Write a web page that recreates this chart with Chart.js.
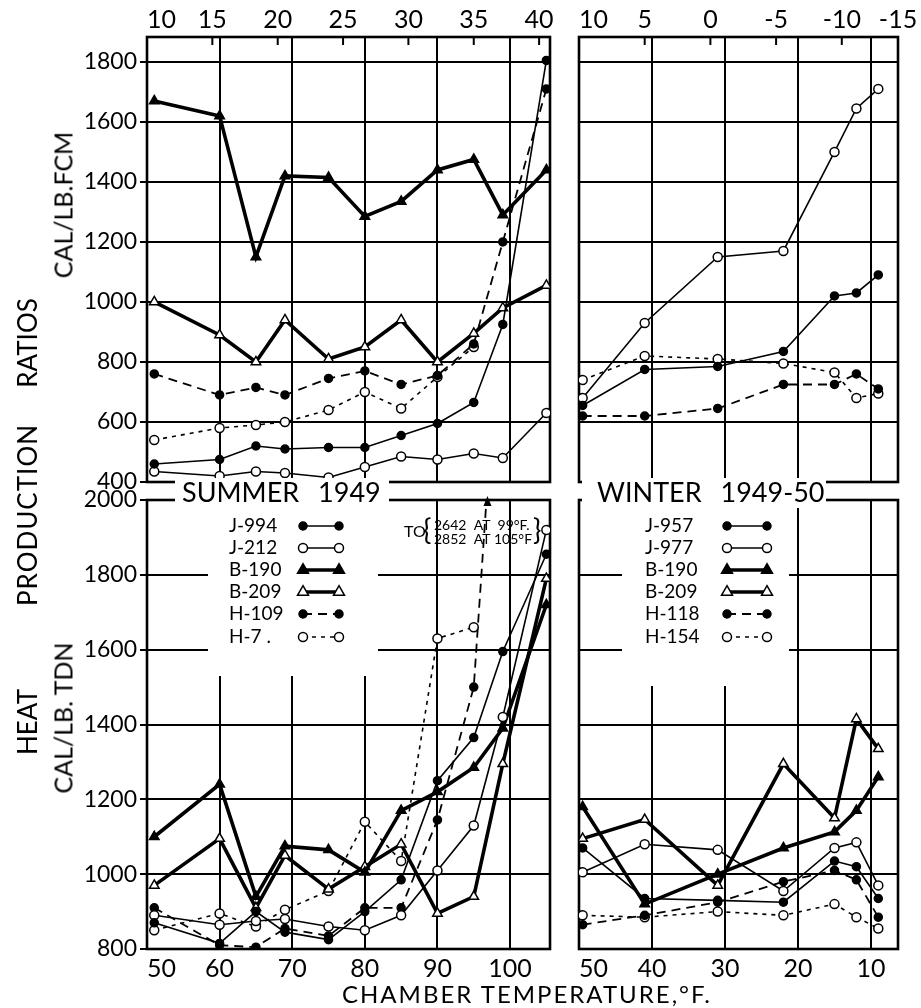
<!DOCTYPE html>
<html>
<head>
<meta charset="utf-8">
<title>Heat production ratios</title>
<script src="https://cdn.jsdelivr.net/npm/chart.js@4.4.1/dist/chart.umd.min.js"></script>
<style>
  body { margin: 0; width: 921px; height: 1008px; background: #fff; position: relative; overflow: hidden; font-family: Lato, "DejaVu Sans", sans-serif; color: #000; }
  canvas { position: absolute; }
  .txt { position: absolute; white-space: nowrap; line-height: 1; }
  .up { transform: translate(-50%, -50%) rotate(-90deg); }
</style>
</head>
<body>
<canvas id="summerTop" width="560" height="500" style="left:0;top:0"></canvas>
<canvas id="winterTop" width="361" height="500" style="left:560px;top:0"></canvas>
<canvas id="summerBottom" width="560" height="538" style="left:0;top:470px"></canvas>
<canvas id="winterBottom" width="361" height="538" style="left:560px;top:470px"></canvas>
<div class="txt up" style="left:27px;top:343px;font-size:26px;">RATIOS</div>
<div class="txt up" style="left:27px;top:515px;font-size:26px;letter-spacing:1px;">PRODUCTION</div>
<div class="txt up" style="left:27px;top:722px;font-size:26px;">HEAT</div>
<div class="txt up" style="left:63px;top:205px;font-size:25px;">CAL/LB.FCM</div>
<div class="txt up" style="left:63px;top:718px;font-size:25px;">CAL/LB. TDN</div>
<div class="txt" style="left:527px;top:994px;font-size:24px;letter-spacing:2px;transform:translate(-50%,-50%);">CHAMBER TEMPERATURE,°F.</div>
<script>
const FONT = 'Lato, "DejaVu Sans", sans-serif';

// chamber temperatures (°F) of the plotted points
const summerTemps = [51, 60, 65, 69, 75, 80, 85, 90, 95, 99, 105];
const winterTemps = [49.5, 41, 31, 22, 15, 12, 9];

// summer 1949, cal/lb FCM
const j994Fcm = [460, 475, 520, 510, 515, 515, 555, 595, 665, 925, 1805];
const j212Fcm = [435, 420, 435, 430, 415, 450, 485, 475, 495, 480, 630];
const b190SummerFcm = [1670, 1620, 1150, 1420, 1415, 1285, 1335, 1440, 1475, 1290, 1440];
const b209SummerFcm = [1000, 890, 800, 940, 810, 850, 940, 800, 895, 980, 1055];
const h109Fcm = [760, 690, 715, 690, 745, 770, 725, 755, 860, 1200, 1710];
const h7Fcm = [540, 580, 590, 600, 640, 700, 645, 750, 850, null, null];

// summer 1949, cal/lb TDN (H-109: 2642 at 99°F, 2852 at 105°F)
const j994Tdn = [870, 815, 900, 845, 825, 900, 985, 1250, 1365, 1595, 1855];
const j212Tdn = [890, 865, 875, 880, 860, 850, 890, 1010, 1130, 1420, 1920];
const b190SummerTdn = [1100, 1240, 940, 1075, 1065, 1005, 1170, 1220, 1285, 1390, 1720];
const b209SummerTdn = [970, 1095, 910, 1050, 960, 1020, 1080, 895, 940, 1295, 1790];
const h109Tdn = [910, 810, 805, 855, 835, 910, 910, 1145, 1500, 2642, 2852];
const h7Tdn = [850, 895, 860, 905, 955, 1140, 1035, 1630, 1660, null, null];

// winter 1949-50, cal/lb FCM
const j957Fcm = [655, 775, 785, 835, 1020, 1030, 1090];
const j977Fcm = [680, 930, 1150, 1170, 1500, 1645, 1710];
const h118Fcm = [620, 620, 645, 725, 725, 760, 710];
const h154Fcm = [740, 820, 810, 795, 765, 680, 695];

// winter 1949-50, cal/lb TDN
const j957Tdn = [1070, 935, 930, 925, 1035, 1020, 935];
const j977Tdn = [1005, 1080, 1065, 955, 1070, 1085, 970];
const b190WinterTdn = [1180, 920, 1000, 1070, 1113, 1170, 1260];
const b209WinterTdn = [1095, 1146, 970, 1295, 1150, 1415, 1335];
const h118Tdn = [865, 890, 925, 980, 1010, 985, 885];
const h154Tdn = [890, 885, 900, 890, 920, 885, 855];

// axes
const fcmTicks = [400, 600, 800, 1000, 1200, 1400, 1600, 1800];
const tdnTicks = [800, 1000, 1200, 1400, 1600, 1800, 2000];
const summerFTicks = [50, 60, 70, 80, 90, 100];
const winterFTicks = [10, 20, 30, 40, 50];
const summerCTicks = [10, 15, 20, 25, 30, 35, 40];
const winterCTicks = [10, 5, 0, -5, -10, -15];

const summerNames = ['J-994', 'J-212', 'B-190', 'B-209', 'H-109', 'H-7 .'];
const winterNames = ['J-957', 'J-977', 'B-190', 'B-209', 'H-118', 'H-154'];
const lookOrder = ['solidDot', 'solidRing', 'heavyTri', 'heavyOpenTri', 'dashDot', 'dashRing'];

const looks = {
    solidDot:     { borderWidth: 1.6, pointStyle: 'circle', pointRadius: 4, pointBackgroundColor: '#000' },
    solidRing:    { borderWidth: 1.6, pointStyle: 'circle', pointRadius: 4.5, pointBackgroundColor: '#fff' },
    heavyTri:     { borderWidth: 3.6, pointStyle: 'triangle', pointRadius: 5.5, pointBackgroundColor: '#000' },
    heavyOpenTri: { borderWidth: 3.6, pointStyle: 'triangle', pointRadius: 5.5, pointBackgroundColor: '#fff' },
    dashDot:      { borderWidth: 1.8, borderDash: [9, 6], pointStyle: 'circle', pointRadius: 4, pointBackgroundColor: '#000' },
    dashRing:     { borderWidth: 1.6, borderDash: [4, 5], pointStyle: 'circle', pointRadius: 4.5, pointBackgroundColor: '#fff' }
};

function drawMark(ctx, look, x, y) {
    const r = look.pointRadius;
    ctx.beginPath();
    if (look.pointStyle === 'triangle') {
        ctx.moveTo(x, y - r * 1.15);
        ctx.lineTo(x + r, y + r * 0.6);
        ctx.lineTo(x - r, y + r * 0.6);
        ctx.closePath();
    } else {
        ctx.arc(x, y, r, 0, Math.PI * 2);
    }
    ctx.setLineDash([]);
    ctx.fillStyle = look.pointBackgroundColor;
    ctx.fill();
    ctx.lineWidth = 1.5;
    ctx.strokeStyle = '#000';
    ctx.stroke();
}

function drawTopAxis(chart, cVals) {
    const { ctx, chartArea: a, scales: { x } } = chart;
    ctx.save();
    ctx.font = `25px ${FONT}`;
    ctx.fillStyle = '#000';
    ctx.strokeStyle = '#000';
    ctx.lineWidth = 2;
    ctx.textBaseline = 'middle';
    cVals.forEach(c => {
        const px = x.getPixelForValue(c * 9 / 5 + 32);
        let tx = px, align = 'center';
        if (px <= a.left + 3) { tx = a.left; align = 'left'; }
        else if (px >= a.right) { tx = a.right; }
        else {
            ctx.beginPath();
            ctx.moveTo(px, a.top);
            ctx.lineTo(px, a.top + 8);
            ctx.stroke();
        }
        ctx.textAlign = align;
        ctx.fillText(String(c), tx, 20);
    });
    ctx.restore();
}

function drawLegend(chart, L, ox, oy) {
    const ctx = chart.ctx;
    ctx.save();
    ctx.fillStyle = '#fff';
    ctx.fillRect(L.boxL - ox, L.boxT - oy, L.boxR - L.boxL, L.boxB - L.boxT);
    ctx.fillRect(L.gapL - ox, L.titleY - oy - 15, L.gapR - L.gapL, 30);
    ctx.fillStyle = '#000';
    ctx.textBaseline = 'middle';
    ctx.textAlign = 'left';
    ctx.font = `27px ${FONT}`;
    ctx.wordSpacing = '12px';
    ctx.fillText(L.title, L.titleX - ox, L.titleY - oy);
    ctx.wordSpacing = '0px';
    ctx.font = `19px ${FONT}`;
    L.names.forEach((name, i) => {
        const y = L.rows[i] - oy;
        const look = looks[lookOrder[i]];
        ctx.fillStyle = '#000';
        ctx.fillText(name, L.textX - ox, y);
        ctx.beginPath();
        ctx.setLineDash(look.borderDash || []);
        ctx.lineWidth = look.borderWidth;
        ctx.strokeStyle = '#000';
        ctx.moveTo(L.lineL - ox, y);
        ctx.lineTo(L.lineR - ox, y);
        ctx.stroke();
        drawMark(ctx, look, L.lineL - ox, y);
        drawMark(ctx, look, L.lineR - ox, y);
    });
    ctx.restore();
}

function drawOffNote(chart, ox, oy) {
    const { ctx, chartArea: a } = chart;
    const pts = chart.getDatasetMeta(4).data;
    const p0 = pts[8], p1 = pts[9];
    const t = (a.top - p0.y) / (p1.y - p0.y);
    const xc = p0.x + t * (p1.x - p0.x);
    ctx.save();
    ctx.fillStyle = '#000';
    ctx.beginPath();
    ctx.moveTo(xc + 1, a.top - 4);
    ctx.lineTo(xc + 5, a.top + 6);
    ctx.lineTo(xc - 3, a.top + 6);
    ctx.closePath();
    ctx.fill();
    ctx.textBaseline = 'middle';
    ctx.textAlign = 'left';
    ctx.font = `16px ${FONT}`;
    ctx.fillText('TO', 404 - ox, 532 - oy);
    ctx.font = `28px ${FONT}`;
    ctx.fillText('{', 423 - ox, 531 - oy);
    ctx.fillText('}', 533 - ox, 531 - oy);
    ctx.font = `14px ${FONT}`;
    ctx.fillText('2642  AT  99°F.', 434 - ox, 525 - oy);
    ctx.fillText('2852  AT 105°F', 434 - ox, 539 - oy);
    ctx.restore();
}

function panel(id, o) {
    const labelled = o.fTicks;
    const tickVals = Array.from(new Set([o.xMin].concat(o.fTicks, [o.xMax]))).sort((p, q) => p - q);
    const deco = {
        id: 'deco',
        beforeDatasetsDraw(chart) {
            const { ctx, chartArea: a } = chart;
            ctx.save();
            ctx.lineWidth = 2.6;
            ctx.strokeStyle = '#000';
            ctx.strokeRect(a.left, a.top, a.right - a.left, a.bottom - a.top);
            ctx.restore();
            if (o.topC) drawTopAxis(chart, o.topC);
            if (o.legend) drawLegend(chart, o.legend, o.ox, o.oy);
        },
        afterDatasetsDraw(chart) {
            if (o.note) drawOffNote(chart, o.ox, o.oy);
        }
    };
    return new Chart(document.getElementById(id), {
        type: 'line',
        data: {
            datasets: o.series.map(s => Object.assign({
                label: s.name,
                data: o.temps.map((t, i) => ({ x: t, y: s.values[i] })),
                borderColor: '#000',
                pointBorderColor: '#000',
                pointBorderWidth: 1.5,
                tension: 0,
                fill: false
            }, looks[s.look]))
        },
        options: {
            responsive: false,
            animation: false,
            events: [],
            layout: { padding: { left: 0, top: o.padTop, right: o.padRight, bottom: 0 } },
            plugins: { legend: { display: false }, tooltip: { enabled: false } },
            scales: {
                x: {
                    type: 'linear',
                    min: o.xMin,
                    max: o.xMax,
                    reverse: !!o.reverse,
                    afterBuildTicks: axis => { axis.ticks = tickVals.map(v => ({ value: v })); },
                    afterFit: axis => { axis.height = o.xHeight; },
                    grid: { color: '#000', lineWidth: 2, drawTicks: false },
                    border: { display: false },
                    ticks: {
                        display: !!o.xLabels,
                        autoSkip: false,
                        maxRotation: 0,
                        align: 'inner',
                        padding: 5,
                        color: '#000',
                        font: { family: FONT, size: 25 },
                        callback: v => labelled.includes(v) ? String(v) : ''
                    }
                },
                y: {
                    type: 'linear',
                    min: o.yMin,
                    max: o.yMax,
                    afterBuildTicks: axis => { axis.ticks = o.yTicks.map(v => ({ value: v })); },
                    afterFit: axis => { axis.width = o.yWidth; },
                    grid: { color: '#000', lineWidth: 2, drawTicks: !!o.yLabels, tickLength: 7 },
                    border: { display: false },
                    ticks: {
                        display: !!o.yLabels,
                        autoSkip: false,
                        padding: 3,
                        color: '#000',
                        font: { family: FONT, size: 23 },
                        callback: v => String(v)
                    }
                }
            }
        },
        plugins: [deco]
    });
}

const summerLegend = {
    title: 'SUMMER 1949', titleX: 182, titleY: 493, gapL: 175, gapR: 389,
    boxL: 208, boxR: 378, boxT: 502, boxB: 676,
    names: summerNames, textX: 229, lineL: 303, lineR: 339,
    rows: [526, 548, 570, 592, 614, 637]
};
const winterLegend = {
    title: 'WINTER 1949-50', titleX: 597, titleY: 493, gapL: 582, gapR: 826,
    boxL: 622, boxR: 789, boxT: 502, boxB: 686,
    names: winterNames, textX: 645, lineL: 727, lineR: 767,
    rows: [526, 548, 570, 592, 614, 637]
};

const summerX = { xMin: 50, xMax: 105.5, fTicks: summerFTicks, temps: summerTemps };
const winterX = { xMin: 6.3, xMax: 50, reverse: true, fTicks: winterFTicks, temps: winterTemps };

panel('summerTop', Object.assign({}, summerX, {
    ox: 0, oy: 0, padTop: 37, padRight: 10, xHeight: 18, yWidth: 147,
    yMin: 400, yMax: 1883, yTicks: fcmTicks, yLabels: true, topC: summerCTicks,
    series: [
        { name: 'J-994', values: j994Fcm, look: 'solidDot' },
        { name: 'J-212', values: j212Fcm, look: 'solidRing' },
        { name: 'B-190', values: b190SummerFcm, look: 'heavyTri' },
        { name: 'B-209', values: b209SummerFcm, look: 'heavyOpenTri' },
        { name: 'H-109', values: h109Fcm, look: 'dashDot' },
        { name: 'H-7', values: h7Fcm, look: 'dashRing' }
    ]
}));

panel('winterTop', Object.assign({}, winterX, {
    ox: 560, oy: 0, padTop: 37, padRight: 23, xHeight: 18, yWidth: 19,
    yMin: 400, yMax: 1883, yTicks: fcmTicks, topC: winterCTicks,
    series: [
        { name: 'J-957', values: j957Fcm, look: 'solidDot' },
        { name: 'J-977', values: j977Fcm, look: 'solidRing' },
        { name: 'H-118', values: h118Fcm, look: 'dashDot' },
        { name: 'H-154', values: h154Fcm, look: 'dashRing' }
    ]
}));

panel('summerBottom', Object.assign({}, summerX, {
    ox: 0, oy: 470, padTop: 30, padRight: 10, xHeight: 59, yWidth: 147,
    yMin: 800, yMax: 2000, yTicks: tdnTicks, yLabels: true, xLabels: true,
    legend: summerLegend, note: true,
    series: [
        { name: 'J-994', values: j994Tdn, look: 'solidDot' },
        { name: 'J-212', values: j212Tdn, look: 'solidRing' },
        { name: 'B-190', values: b190SummerTdn, look: 'heavyTri' },
        { name: 'B-209', values: b209SummerTdn, look: 'heavyOpenTri' },
        { name: 'H-109', values: h109Tdn, look: 'dashDot' },
        { name: 'H-7', values: h7Tdn, look: 'dashRing' }
    ]
}));

panel('winterBottom', Object.assign({}, winterX, {
    ox: 560, oy: 470, padTop: 30, padRight: 23, xHeight: 59, yWidth: 19,
    yMin: 800, yMax: 2000, yTicks: tdnTicks, xLabels: true,
    legend: winterLegend,
    series: [
        { name: 'J-957', values: j957Tdn, look: 'solidDot' },
        { name: 'J-977', values: j977Tdn, look: 'solidRing' },
        { name: 'B-190', values: b190WinterTdn, look: 'heavyTri' },
        { name: 'B-209', values: b209WinterTdn, look: 'heavyOpenTri' },
        { name: 'H-118', values: h118Tdn, look: 'dashDot' },
        { name: 'H-154', values: h154Tdn, look: 'dashRing' }
    ]
}));
</script>
</body>
</html>
